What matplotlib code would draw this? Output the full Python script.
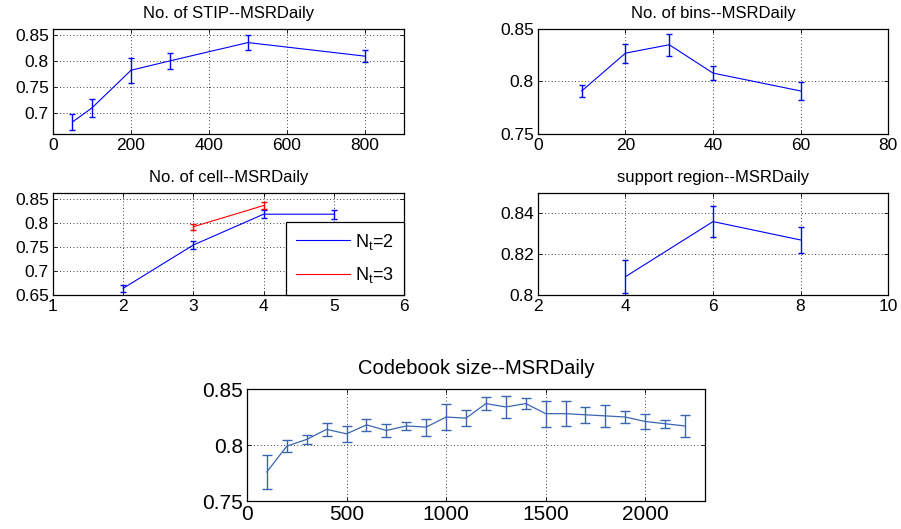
import matplotlib
matplotlib.use("Agg")
import matplotlib.pyplot as plt

# ================= data =================
stip_x = [50, 100, 200, 300, 500, 800]
stip_y = [0.683, 0.710, 0.782, 0.800, 0.835, 0.809]
stip_err = [0.015, 0.017, 0.024, 0.015, 0.015, 0.012]

bins_x = [10, 20, 30, 40, 60]
bins_y = [0.791, 0.827, 0.835, 0.808, 0.791]
bins_err = [0.006, 0.009, 0.0105, 0.0067, 0.0087]

cell_x_nt2 = [2, 3, 4, 5]
cell_y_nt2 = [0.664, 0.754, 0.818, 0.818]
cell_err_nt2 = [0.0075, 0.008, 0.0085, 0.0095]
cell_x_nt3 = [3, 4]
cell_y_nt3 = [0.792, 0.836]
cell_err_nt3 = [0.006, 0.008]

region_x = [4, 6, 8]
region_y = [0.809, 0.836, 0.827]
region_err = [0.008, 0.0075, 0.0062]

code_x = [100, 200, 300, 400, 500, 600, 700, 800, 900, 1000, 1100,
          1200, 1300, 1400, 1500, 1600, 1700, 1800, 1900, 2000, 2100, 2200]
code_y = [0.776, 0.799, 0.805, 0.814, 0.810, 0.818, 0.813, 0.817, 0.816, 0.825, 0.824,
          0.837, 0.834, 0.837, 0.828, 0.828, 0.827, 0.826, 0.825, 0.821, 0.819, 0.817]
code_err = [0.015, 0.0053, 0.004, 0.0057, 0.0071, 0.0055, 0.0054, 0.004, 0.0076, 0.0112, 0.0073,
            0.0058, 0.0098, 0.005, 0.0117, 0.011, 0.0071, 0.01, 0.005, 0.0068, 0.0034, 0.0095]

plt.rcParams['font.family'] = ['Liberation Sans', 'DejaVu Sans']
plt.rcParams['mathtext.fontset'] = 'custom'
plt.rcParams['mathtext.rm'] = 'Liberation Sans'
plt.rcParams['mathtext.it'] = 'Liberation Sans'


def style_axes(ax, title, xlim, ylim, xticks, yticks, ticksize=12.5, titlesize=12, titlepad=8):
    ax.set_xlim(xlim)
    ax.set_ylim(ylim)
    ax.set_xticks(xticks)
    ax.set_yticks(yticks)
    ax.set_xticklabels([f"{t:g}" for t in xticks], fontsize=ticksize)
    ax.set_yticklabels([f"{t:g}" for t in yticks], fontsize=ticksize)
    ax.tick_params(direction="in", length=3, width=0.6, top=True, right=True, pad=3)
    ax.grid(True, linestyle=(0, (1, 3)), color="black", linewidth=0.6)
    for sp in ax.spines.values():
        sp.set_linewidth(0.9)
    ax.set_title(title, fontsize=titlesize, pad=titlepad)


fig = plt.figure(figsize=(9.01, 5.29), dpi=100)

ax1 = fig.add_axes([0.0588, 0.7467, 0.3896, 0.1985])
ax1.errorbar(stip_x, stip_y, yerr=stip_err, color="blue", lw=0.8, capsize=2.5, elinewidth=1.0)
style_axes(ax1, "No. of STIP--MSRDaily", (0, 900), (0.66, 0.861),
           [0, 200, 400, 600, 800], [0.7, 0.75, 0.8, 0.85])

ax2 = fig.add_axes([0.5971, 0.7467, 0.3885, 0.1985])
ax2.errorbar(bins_x, bins_y, yerr=bins_err, color="blue", lw=0.8, capsize=2.5, elinewidth=1.0)
style_axes(ax2, "No. of bins--MSRDaily", (0, 80), (0.75, 0.85),
           [0, 20, 40, 60, 80], [0.75, 0.8, 0.85])

ax3 = fig.add_axes([0.0588, 0.4423, 0.3896, 0.1928])
ax3.errorbar(cell_x_nt2, cell_y_nt2, yerr=cell_err_nt2, color="blue", lw=0.8, capsize=2.5,
             elinewidth=1.0, label="N$_t$=2")
ax3.errorbar(cell_x_nt3, cell_y_nt3, yerr=cell_err_nt3, color="red", lw=0.8, capsize=2.5,
             elinewidth=1.0, label="N$_t$=3")
style_axes(ax3, "No. of cell--MSRDaily", (1, 6), (0.65, 0.862),
           [1, 2, 3, 4, 5, 6], [0.65, 0.7, 0.75, 0.8, 0.85])
handles, labels = ax3.get_legend_handles_labels()
handles = [h[0] for h in handles]
leg = ax3.legend(handles, labels, loc="lower right", borderaxespad=0, fontsize=13,
                 handlelength=3.0, labelspacing=0.75, fancybox=False, framealpha=1,
                 edgecolor="black", borderpad=0.55, handletextpad=0.3)
leg.get_frame().set_linewidth(0.9)

ax4 = fig.add_axes([0.5971, 0.4423, 0.3885, 0.1928])
ax4.errorbar(region_x, region_y, yerr=region_err, color="blue", lw=0.8, capsize=2.5, elinewidth=1.0)
style_axes(ax4, "support region--MSRDaily", (2, 10), (0.8, 0.85),
           [2, 4, 6, 8, 10], [0.8, 0.82, 0.84])

ax5 = fig.add_axes([0.2741, 0.0529, 0.5083, 0.2117])
ax5.errorbar(code_x, code_y, yerr=code_err, color="#3a66b0", lw=0.9, capsize=3.5, elinewidth=1.0)
style_axes(ax5, "Codebook size--MSRDaily", (0, 2300), (0.75, 0.85),
           [0, 500, 1000, 1500, 2000], [0.75, 0.8, 0.85], ticksize=15, titlesize=14.5, titlepad=11)

fig.savefig("out.png", dpi=100)
